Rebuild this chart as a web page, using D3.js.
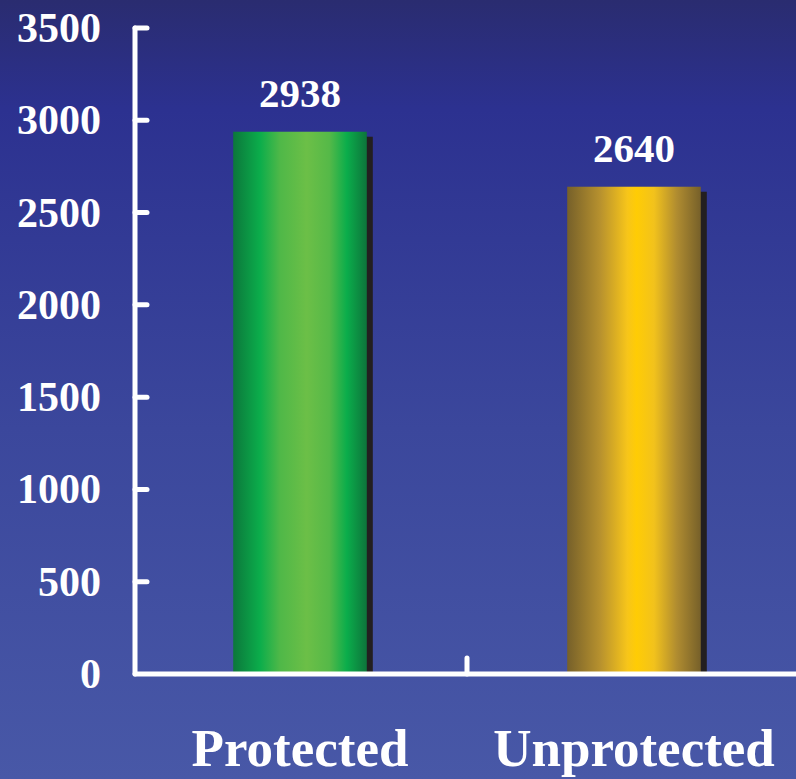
<!DOCTYPE html>
<html>
<head>
<meta charset="utf-8">
<script src="https://cdn.jsdelivr.net/npm/d3@7"></script>
<style>
  html, body { margin: 0; padding: 0; background: #2e3590; }
  svg { display: block; }
  text { font-family: "Liberation Serif", "Times New Roman", serif; font-weight: bold; fill: #fff; }
</style>
</head>
<body>
<div id="chart"></div>
<script>
var categories = ["Protected", "Unprotected"];
var values = [2938, 2640];
var yTicks = [0, 500, 1000, 1500, 2000, 2500, 3000, 3500];

var width = 796, height = 779;

var svg = d3.select("#chart").append("svg")
    .attr("width", width)
    .attr("height", height);

var defs = svg.append("defs");

// background gradient
var bg = defs.append("linearGradient").attr("id", "bg")
    .attr("x1", 0).attr("y1", 0).attr("x2", 0).attr("y2", 1);
bg.append("stop").attr("offset", "0%").attr("stop-color", "#2a2c70");
bg.append("stop").attr("offset", "14%").attr("stop-color", "#2c3190");
bg.append("stop").attr("offset", "55%").attr("stop-color", "#3b479c");
bg.append("stop").attr("offset", "100%").attr("stop-color", "#4858a7");

// bar gradients (horizontal)
var barStops = [
    [["0%", "#0c773b"], ["20%", "#0bad4b"], ["35%", "#4fb848"], ["55%", "#6cbf47"], ["72%", "#55b948"], ["85%", "#0bad4b"], ["100%", "#0d743b"]],
    [["0%", "#76602a"], ["25%", "#b8922e"], ["45%", "#f7c51a"], ["52%", "#ffcc05"], ["65%", "#f2c21c"], ["82%", "#b08c30"], ["100%", "#76602a"]]
];
barStops.forEach(function (stops, i) {
    var g = defs.append("linearGradient").attr("id", "bar" + i)
        .attr("x1", 0).attr("y1", 0).attr("x2", 1).attr("y2", 0);
    stops.forEach(function (s) {
        g.append("stop").attr("offset", s[0]).attr("stop-color", s[1]);
    });
});

svg.append("rect")
    .attr("width", width)
    .attr("height", height)
    .attr("fill", "url(#bg)");

var axisX = 135;

var y = d3.scaleLinear()
    .domain([0, 3500])
    .range([674, 28]);

var x = d3.scaleBand()
    .domain(categories)
    .range([axisX - 2, 801])
    .paddingInner(0.6)
    .paddingOuter(0.3);

// bars with shadow
var bars = svg.selectAll("g.bar")
    .data(values)
    .enter()
    .append("g")
    .attr("class", "bar");

bars.append("rect")
    .attr("x", function (d, i) { return x(categories[i]) + 6; })
    .attr("y", function (d) { return y(d) + 5; })
    .attr("width", x.bandwidth())
    .attr("height", function (d) { return y(0) - y(d) - 5; })
    .attr("fill", "#231f20");

bars.append("rect")
    .attr("x", function (d, i) { return x(categories[i]); })
    .attr("y", function (d) { return y(d); })
    .attr("width", x.bandwidth())
    .attr("height", function (d) { return y(0) - y(d); })
    .attr("fill", function (d, i) { return "url(#bar" + i + ")"; });

// value labels
svg.selectAll("text.value")
    .data(values)
    .enter()
    .append("text")
    .attr("class", "value")
    .attr("x", function (d, i) { return x(categories[i]) + x.bandwidth() / 2; })
    .attr("y", function (d) { return y(d) - 25; })
    .attr("text-anchor", "middle")
    .style("font-size", "41px")
    .text(function (d) { return d; });

// y axis line and ticks
svg.append("line")
    .attr("x1", axisX).attr("x2", axisX)
    .attr("y1", y(3500)).attr("y2", y(0))
    .attr("stroke", "#fff").attr("stroke-width", 5).attr("stroke-linecap", "round");

svg.selectAll("line.ytick")
    .data(yTicks.slice(1))
    .enter()
    .append("line")
    .attr("class", "ytick")
    .attr("x1", axisX).attr("x2", axisX + 12)
    .attr("y1", function (d) { return y(d); })
    .attr("y2", function (d) { return y(d); })
    .attr("stroke", "#fff").attr("stroke-width", 5).attr("stroke-linecap", "round");

svg.selectAll("text.ylabel")
    .data(yTicks)
    .enter()
    .append("text")
    .attr("class", "ylabel")
    .attr("x", 101)
    .attr("y", function (d) { return y(d) + 14; })
    .attr("text-anchor", "end")
    .style("font-size", "42px")
    .text(function (d) { return d; });

// x axis line and middle tick
svg.append("line")
    .attr("x1", axisX).attr("x2", width + 5)
    .attr("y1", y(0)).attr("y2", y(0))
    .attr("stroke", "#fff").attr("stroke-width", 5).attr("stroke-linecap", "round");

var midX = (x(categories[0]) + x.bandwidth() + x(categories[1])) / 2;
svg.append("line")
    .attr("x1", midX).attr("x2", midX)
    .attr("y1", y(0) - 16).attr("y2", y(0))
    .attr("stroke", "#fff").attr("stroke-width", 5).attr("stroke-linecap", "round");

// category labels
svg.selectAll("text.cat")
    .data(categories)
    .enter()
    .append("text")
    .attr("class", "cat")
    .attr("x", function (d) { return x(d) + x.bandwidth() / 2; })
    .attr("y", 766)
    .attr("text-anchor", "middle")
    .style("font-size", "53px")
    .text(function (d) { return d; });
</script>
</body>
</html>
